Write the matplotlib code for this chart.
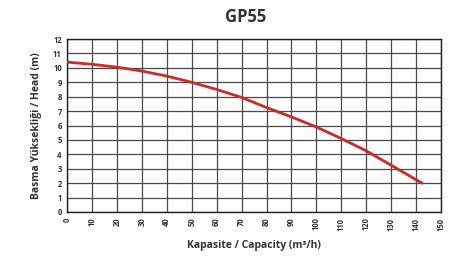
import matplotlib
matplotlib.use("Agg")
import matplotlib.pyplot as plt

# Debi (m3/h) ve basma yüksekliği (m) değerleri
kapasite = [0, 10, 20, 30, 40, 50, 60, 70, 80, 90, 100, 110, 120, 130, 142.5]
yukseklik = [10.4, 10.25, 10.05, 9.78, 9.43, 9.0, 8.5, 7.95, 7.25, 6.6, 5.9, 5.1, 4.25, 3.25, 2.0]

x_ticks = list(range(0, 151, 10))
y_ticks = list(range(0, 13))

plt.rcParams['font.family'] = ['Open Sans', 'DejaVu Sans']

fig = plt.figure(figsize=(4.67, 2.64), dpi=100)
ax = fig.add_axes([0.144, 0.197, 0.8, 0.655])

ax.plot(kapasite, yukseklik, color='#d12a26', linewidth=2, solid_capstyle='round', zorder=3)

ax.set_xlim(0, 150)
ax.set_ylim(0, 12)
ax.set_xticks(x_ticks)
ax.set_yticks(y_ticks)
ax.set_xticklabels([str(v) for v in x_ticks], rotation=90, fontsize=5.5, fontweight='bold', color='#333333')
ax.set_yticklabels([str(v) for v in y_ticks], fontsize=5.5, fontweight='bold', color='#333333')
ax.tick_params(length=0, pad=4)

ax.grid(True, color='#4a4a4a', linewidth=0.9)
ax.set_axisbelow(True)
for s in ax.spines.values():
    s.set_color('#222222')
    s.set_linewidth(1)

ax.set_xlabel('Kapasite / Capacity (m³/h)', fontsize=7.5, fontweight='bold', color='#333333', labelpad=7)
ax.set_ylabel('Basma Yüksekliği / Head (m)', fontsize=7.5, fontweight='bold', color='#333333', labelpad=8)

fig.text(0.525, 0.935, 'GP55', ha='center', va='center', fontsize=12, fontweight='bold', color='#333333')

fig.savefig('out.png', dpi=100)
